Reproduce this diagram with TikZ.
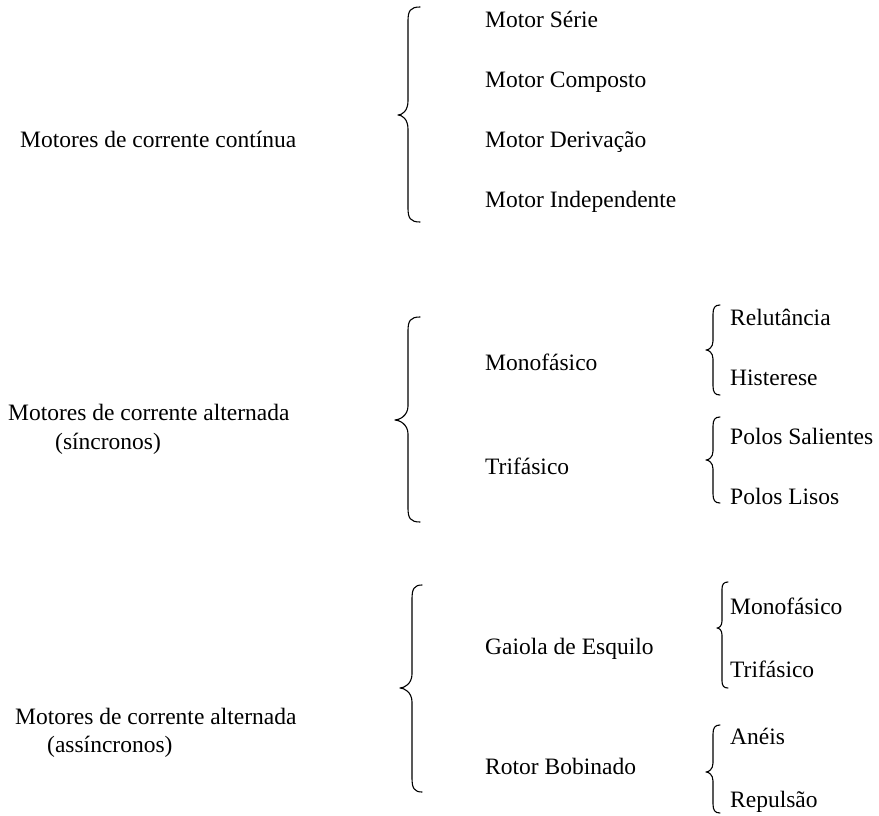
\documentclass[tikz,border=0pt]{standalone}
\usepackage{fontspec}
\setmainfont{Liberation Serif}
% curly brace opening to the right:
% tip x, stem x, end x, top y, tip y, bottom y, bend radius
\newcommand{\groupbrace}[7]{%
  \draw[bracestroke] (#3,#4) .. controls (#2+2,#4) and (#2,#4+0.3*#7) .. (#2,#4+#7)
    -- (#2,#5-#7) .. controls (#2,#5-0.3*#7) and (#1+0.3*#7,#5) .. (#1,#5)
    .. controls (#1+0.3*#7,#5) and (#2,#5+0.3*#7) .. (#2,#5+#7)
    -- (#2,#6-#7) .. controls (#2,#6-0.3*#7) and (#2+2,#6) .. (#3,#6);}
\begin{document}
\begin{tikzpicture}[x=1pt,y=-1pt,
  lbl/.style={anchor=west,inner sep=0pt,text height=0.66em,text depth=0pt,
    yshift=-4pt,font=\fontsize{23.5}{28}\selectfont},
  bracestroke/.style={line width=1.1pt,line cap=round,line join=round}]
\useasboundingbox (0,0) rectangle (879,816);

% direct-current motors
\node[lbl] (cc) at (20,140) {Motores de corrente contínua};
\groupbrace{398}{408}{420}{7}{115}{222}{14}
\node[lbl] (serie) at (485,20) {Motor Série};
\node[lbl] (comp) at (485,80) {Motor Composto};
\node[lbl] (deriv) at (485,140) {Motor Derivação};
\node[lbl] (indep) at (485,200) {Motor Independente};

% synchronous AC motors
\node[lbl] (sinc) at (8,413) {Motores de corrente alternada};
\node[lbl] (sinc2) at (55,442) {(síncronos)};
\groupbrace{395}{408}{420}{317}{420}{522}{14}
\node[lbl] (mono) at (485,363) {Monofásico};
\node[lbl] (tri) at (485,467) {Trifásico};
\groupbrace{706}{713}{720}{305}{350}{395}{9}
\node[lbl] (relut) at (730,318) {Relutância};
\node[lbl] (hist) at (730,378) {Histerese};
\groupbrace{706}{713}{720}{417}{460}{503}{9}
\node[lbl] (salien) at (730,437) {Polos Salientes};
\node[lbl] (lisos) at (730,497) {Polos Lisos};

% asynchronous AC motors
\node[lbl] (assinc) at (15,717) {Motores de corrente alternada};
\node[lbl] (assinc2) at (47,745) {(assíncronos)};
\groupbrace{400}{412}{422}{585}{688}{792}{14}
\node[lbl] (gaiola) at (485,647) {Gaiola de Esquilo};
\node[lbl] (rotor) at (485,767) {Rotor Bobinado};
\groupbrace{717}{722}{728}{582}{628}{688}{7}
\node[lbl] (mono2) at (730,607) {Monofásico};
\node[lbl] (tri2) at (730,670) {Trifásico};
\groupbrace{706}{713}{720}{725}{772}{813}{9}
\node[lbl] (aneis) at (730,737) {Anéis};
\node[lbl] (repuls) at (730,800) {Repulsão};
\end{tikzpicture}
\end{document}
